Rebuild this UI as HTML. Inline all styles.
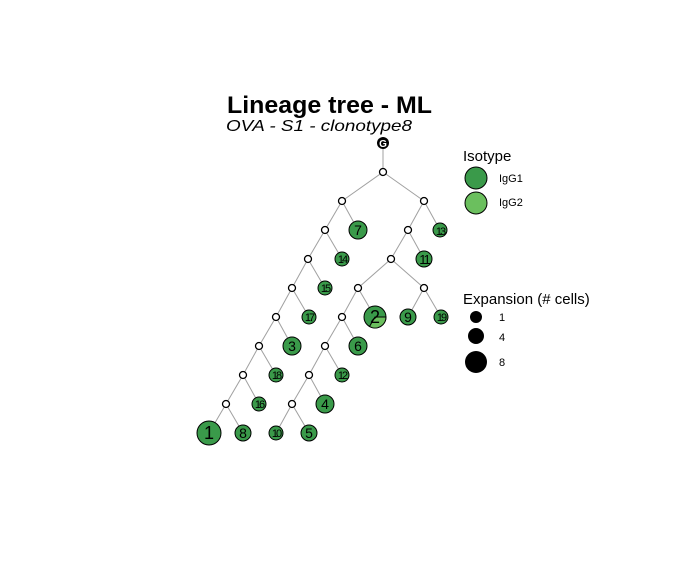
<!DOCTYPE html>
<html><head><meta charset="utf-8"><style>
html,body{margin:0;padding:0;background:#fff;}
svg{display:block;}
text{font-family:"Liberation Sans",Arial,sans-serif;}
</style></head><body>
<svg width="696" height="568" viewBox="0 0 696 568" xmlns="http://www.w3.org/2000/svg">
<text x="227" y="113" font-size="24" font-weight="bold" textLength="205" lengthAdjust="spacingAndGlyphs">Lineage tree - ML</text>
<text x="226" y="131" font-size="16" font-style="italic" textLength="186" lengthAdjust="spacingAndGlyphs">OVA - S1 - clonotype8</text>
<g stroke="#a0a0a0" stroke-width="1" fill="none">
<line x1="383" y1="143" x2="383" y2="168"/>
<line x1="383" y1="172" x2="342" y2="201"/><line x1="383" y1="172" x2="424" y2="201"/>
<line x1="342" y1="201" x2="325" y2="230"/><line x1="342" y1="201" x2="358" y2="230"/>
<line x1="424" y1="201" x2="408" y2="230"/><line x1="424" y1="201" x2="440" y2="230"/>
<line x1="325" y1="230" x2="308" y2="259"/><line x1="325" y1="230" x2="342" y2="259"/>
<line x1="408" y1="230" x2="391" y2="259"/><line x1="408" y1="230" x2="424" y2="259"/>
<line x1="308" y1="259" x2="292" y2="288"/><line x1="308" y1="259" x2="325" y2="288"/>
<line x1="391" y1="259" x2="358" y2="288"/><line x1="391" y1="259" x2="424" y2="288"/>
<line x1="292" y1="288" x2="276" y2="317"/><line x1="292" y1="288" x2="309" y2="317"/>
<line x1="358" y1="288" x2="342" y2="317"/><line x1="358" y1="288" x2="375" y2="317"/>
<line x1="424" y1="288" x2="408" y2="317"/><line x1="424" y1="288" x2="441" y2="317"/>
<line x1="276" y1="317" x2="259" y2="346"/><line x1="276" y1="317" x2="292" y2="346"/>
<line x1="342" y1="317" x2="325" y2="346"/><line x1="342" y1="317" x2="358" y2="346"/>
<line x1="259" y1="346" x2="243" y2="375"/><line x1="259" y1="346" x2="276" y2="375"/>
<line x1="325" y1="346" x2="309" y2="375"/><line x1="325" y1="346" x2="342" y2="375"/>
<line x1="243" y1="375" x2="226" y2="404"/><line x1="243" y1="375" x2="259" y2="404"/>
<line x1="309" y1="375" x2="292" y2="404"/><line x1="309" y1="375" x2="325" y2="404"/>
<line x1="226" y1="404" x2="209" y2="433"/><line x1="226" y1="404" x2="243" y2="433"/>
<line x1="292" y1="404" x2="276" y2="433"/><line x1="292" y1="404" x2="309" y2="433"/>
</g>
<g fill="#fff" stroke="#000" stroke-width="1.3">
<circle cx="383" cy="172" r="3.5"/>
<circle cx="342" cy="201" r="3.5"/><circle cx="424" cy="201" r="3.5"/>
<circle cx="325" cy="230" r="3.5"/><circle cx="408" cy="230" r="3.5"/>
<circle cx="308" cy="259" r="3.5"/><circle cx="391" cy="259" r="3.5"/>
<circle cx="292" cy="288" r="3.5"/><circle cx="358" cy="288" r="3.5"/><circle cx="424" cy="288" r="3.5"/>
<circle cx="276" cy="317" r="3.5"/><circle cx="342" cy="317" r="3.5"/>
<circle cx="259" cy="346" r="3.5"/><circle cx="325" cy="346" r="3.5"/>
<circle cx="243" cy="375" r="3.5"/><circle cx="309" cy="375" r="3.5"/>
<circle cx="226" cy="404" r="3.5"/><circle cx="292" cy="404" r="3.5"/>
</g>
<circle cx="383" cy="143" r="6" fill="#000"/>
<text x="383" y="147" font-size="10" fill="#fff" text-anchor="middle" font-weight="bold">G</text>
<g fill="#3a9a4a" stroke="#000" stroke-width="1">
<circle cx="358" cy="230" r="9"/><circle cx="440" cy="230" r="7"/>
<circle cx="342" cy="259" r="7"/><circle cx="424" cy="259" r="8"/>
<circle cx="325" cy="288" r="7"/>
<circle cx="309" cy="317" r="7"/><circle cx="408" cy="317" r="8"/><circle cx="441" cy="317" r="7"/>
<circle cx="292" cy="346" r="9"/><circle cx="358" cy="346" r="9"/>
<circle cx="276" cy="375" r="7"/><circle cx="342" cy="375" r="7"/>
<circle cx="259" cy="404" r="7"/><circle cx="325" cy="404" r="9"/>
<circle cx="209" cy="433" r="12"/><circle cx="243" cy="433" r="8"/><circle cx="276" cy="433" r="7"/><circle cx="309" cy="433" r="8"/>
<circle cx="375" cy="317" r="11"/>
</g>
<path d="M375,317 L386,317 A11,11 0 0,1 369.5,326.5 Z" fill="#6bbf5e" stroke="#000" stroke-width="1"/>
<g font-size="14" text-anchor="middle" fill="#000">
<text x="358" y="235">7</text><text x="440" y="235" font-size="11" letter-spacing="-2">13</text>
<text x="342" y="263" font-size="11" letter-spacing="-2">14</text><text x="424" y="264" font-size="13" letter-spacing="-2">11</text>
<text x="325" y="292" font-size="11" letter-spacing="-2">15</text>
<text x="309" y="321" font-size="11" letter-spacing="-2">17</text><text x="375" y="323" font-size="18">2</text><text x="408" y="322">9</text><text x="441" y="321" font-size="11" letter-spacing="-2">19</text>
<text x="292" y="351">3</text><text x="358" y="351">6</text>
<text x="276" y="379" font-size="11" letter-spacing="-2">18</text><text x="342" y="379" font-size="11" letter-spacing="-2">12</text>
<text x="259" y="408" font-size="11" letter-spacing="-2">16</text><text x="325" y="409">4</text>
<text x="209" y="439" font-size="18">1</text><text x="243" y="438">8</text><text x="276" y="437" font-size="11" letter-spacing="-2">10</text><text x="309" y="438">5</text>
</g>
<text x="463" y="161" font-size="15">Isotype</text>
<circle cx="476" cy="178" r="11" fill="#3a9a4a" stroke="#000"/>
<circle cx="476" cy="203" r="11" fill="#6bbf5e" stroke="#000"/>
<text x="499" y="182" font-size="11">IgG1</text>
<text x="499" y="206" font-size="11">IgG2</text>
<text x="463" y="304" font-size="15">Expansion (# cells)</text>
<circle cx="476" cy="317" r="6" fill="#000"/>
<circle cx="476" cy="336" r="8" fill="#000"/>
<circle cx="476" cy="362" r="11" fill="#000"/>
<text x="499" y="321" font-size="11">1</text>
<text x="499" y="341" font-size="11">4</text>
<text x="499" y="366" font-size="11">8</text>
</svg>
</body></html>
